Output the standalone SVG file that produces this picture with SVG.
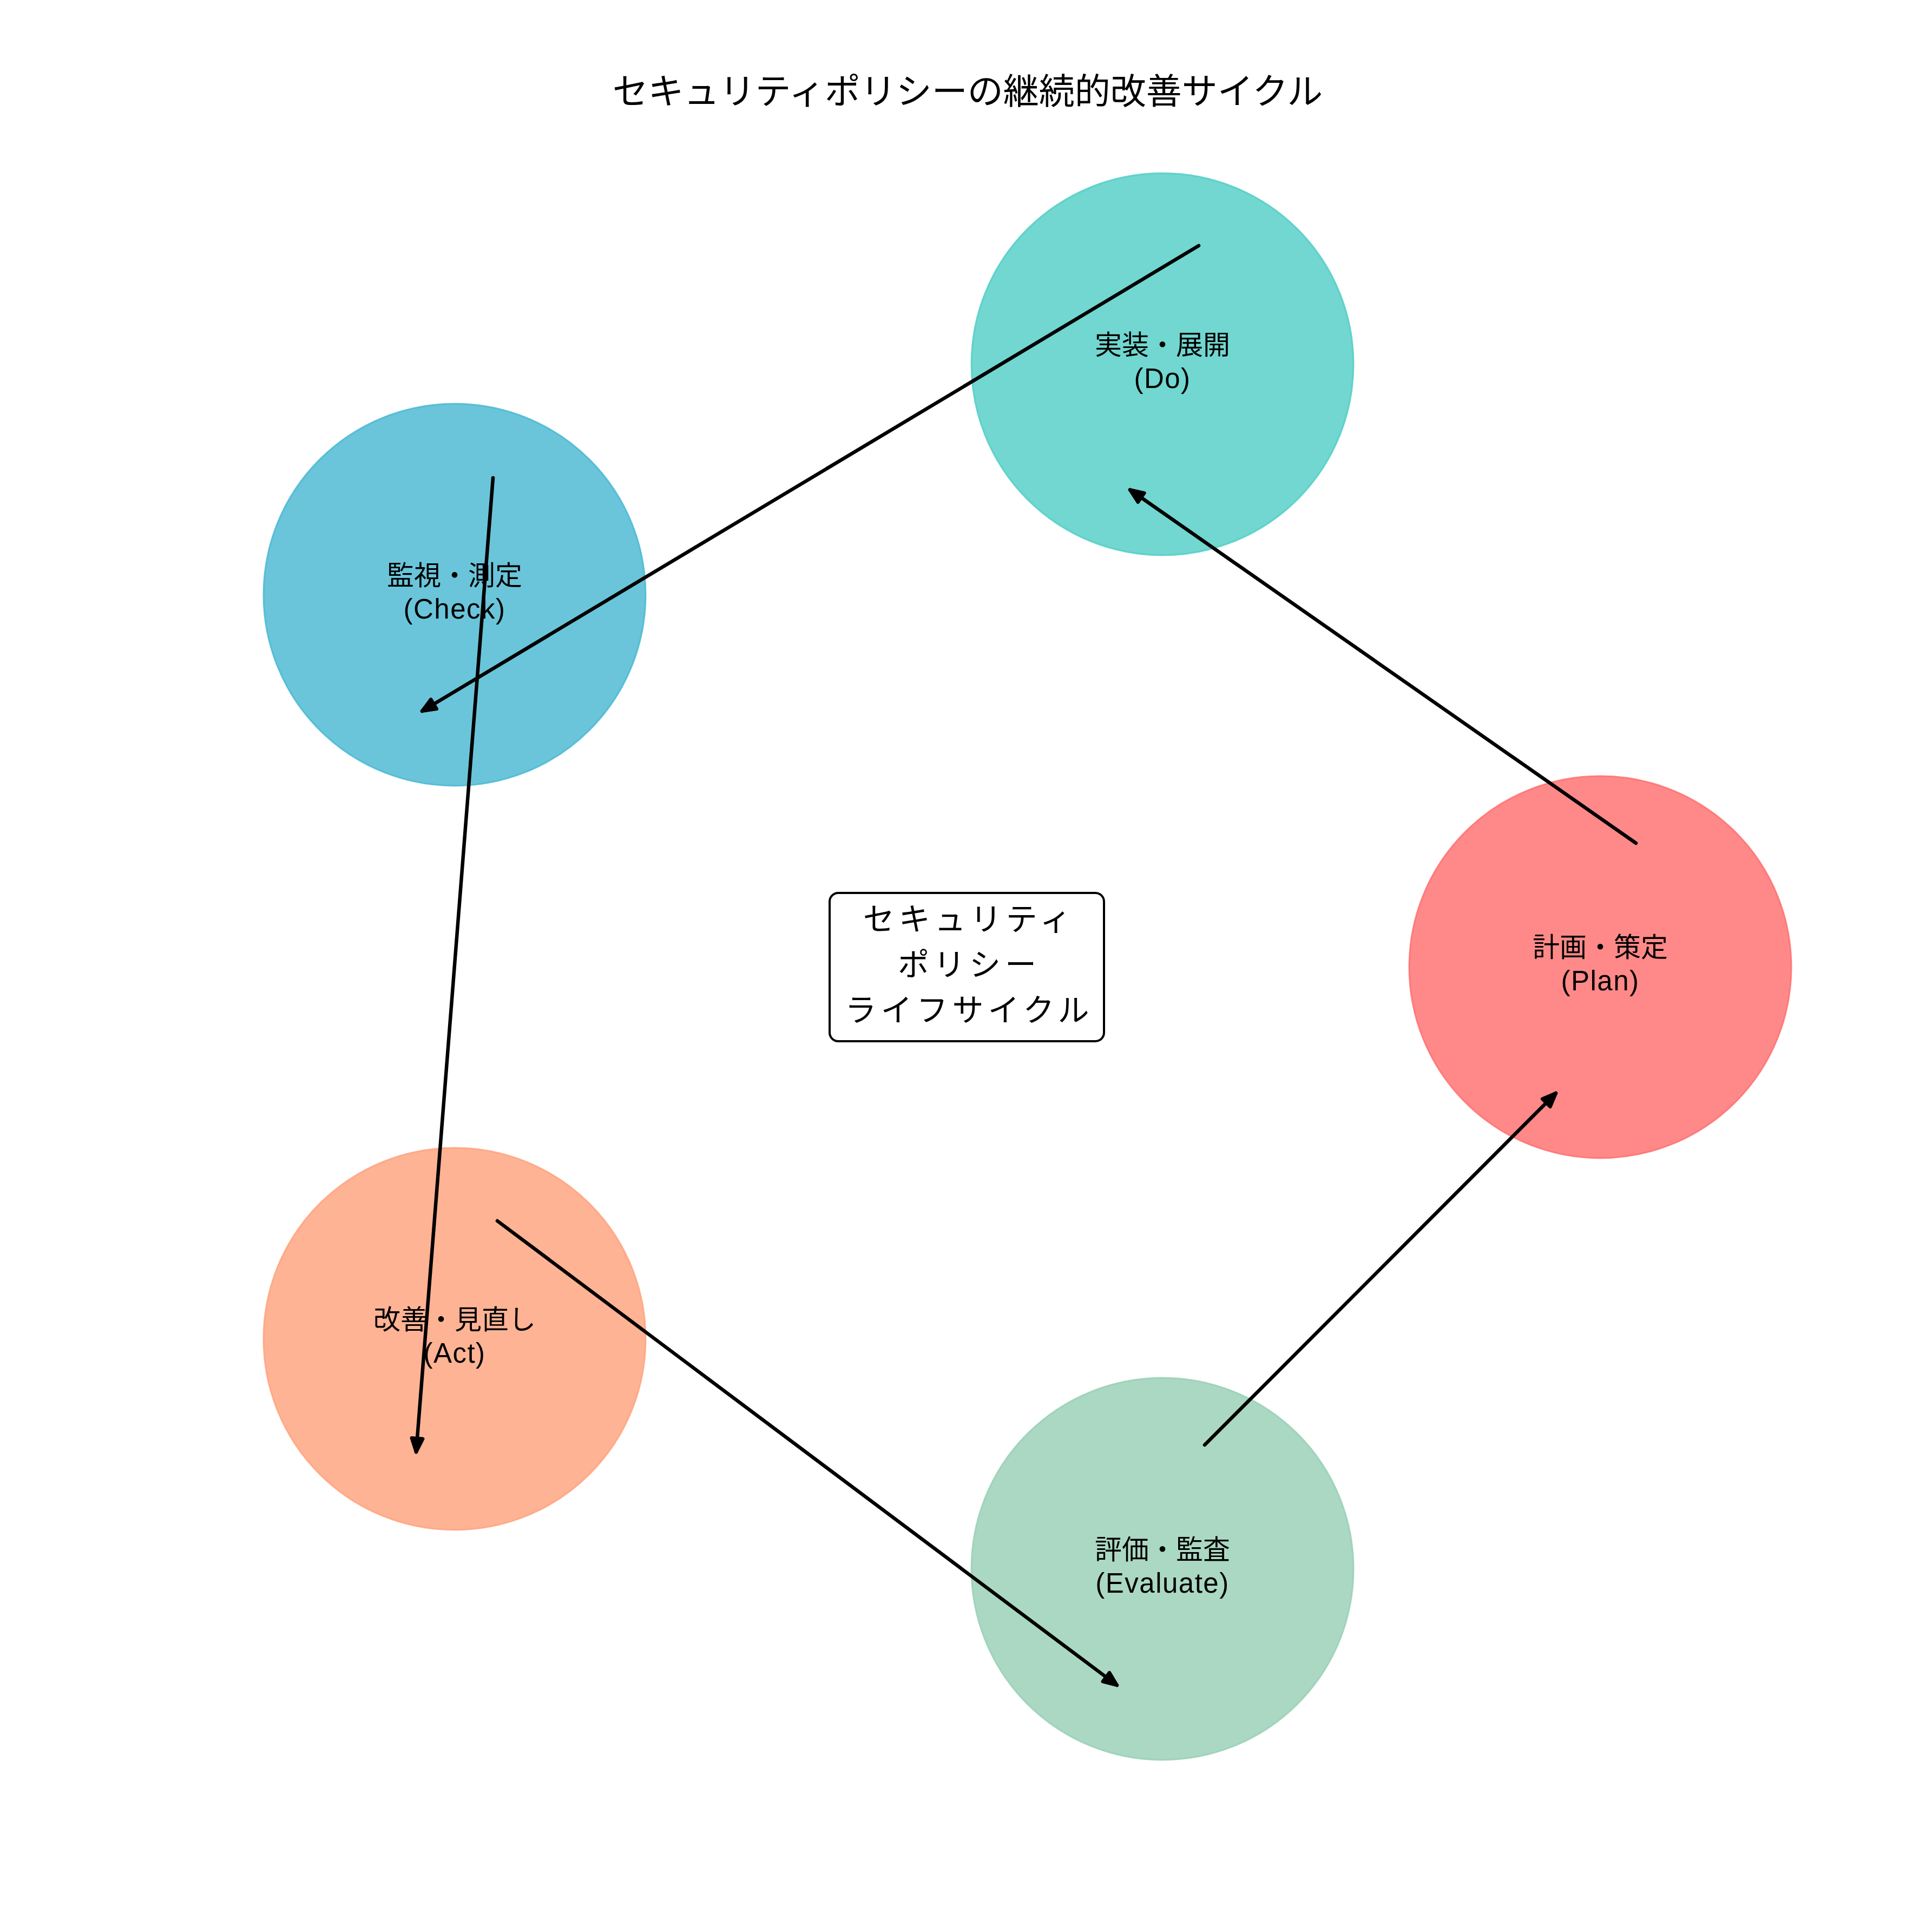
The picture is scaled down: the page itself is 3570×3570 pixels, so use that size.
<svg xmlns="http://www.w3.org/2000/svg" width="3570" height="3570" viewBox="0 0 3570 3570">
  <style>
    text { font-family: "Noto Sans CJK JP", "Noto Sans", sans-serif; fill: #000; text-anchor: middle; }
    .title { font-size: 66px; }
    .center { font-size: 58px; letter-spacing: 8px; }
    .label { font-size: 50px; }
    .latin { font-family: "Liberation Sans", "Noto Sans CJK JP", sans-serif; font-size: 51px; letter-spacing: 1.5px; }
    .node { stroke-width: 3; fill-opacity: 0.8; stroke-opacity: 0.8; }
    .conn { stroke: #000; stroke-width: 6.5; stroke-linecap: round; fill: none; marker-end: url(#arrow); }
  </style>
  <defs>
    <marker id="arrow" markerUnits="userSpaceOnUse" orient="auto" refX="0" refY="0" markerWidth="40" markerHeight="40" viewBox="-30 -15 35 30" overflow="visible">
      <path d="M0,0 L-22,-9 L-22,9 Z" fill="#000" stroke="#000" stroke-width="5.5" stroke-linejoin="round"/>
    </marker>
  </defs>
  <rect x="0" y="0" width="3570" height="3570" fill="#ffffff"/>

  <text class="title" x="1788" y="192">セキュリティポリシーの継続的改善サイクル</text>

  <g id="node-plan">
    <circle class="node" cx="2957" cy="1787" r="353" fill="#FF6B6B" stroke="#FF6B6B"/>
    <text class="label" x="2957" y="1768">計画・策定</text>
    <text class="latin" x="2957" y="1830">(Plan)</text>
  </g>
  <g id="node-do">
    <circle class="node" cx="2148" cy="673" r="353" fill="#4ECDC4" stroke="#4ECDC4"/>
    <text class="label" x="2148" y="655">実装・展開</text>
    <text class="latin" x="2148" y="717">(Do)</text>
  </g>
  <g id="node-check">
    <circle class="node" cx="840" cy="1099" r="353" fill="#45B7D1" stroke="#45B7D1"/>
    <text class="label" x="840" y="1081">監視・測定</text>
    <text class="latin" x="840" y="1143">(Check)</text>
  </g>
  <g id="node-act">
    <circle class="node" cx="840" cy="2474" r="353" fill="#FFA07A" stroke="#FFA07A"/>
    <text class="label" x="840" y="2456">改善・見直し</text>
    <text class="latin" x="840" y="2518">(Act)</text>
  </g>
  <g id="node-evaluate">
    <circle class="node" cx="2148" cy="2899" r="353" fill="#96CEB4" stroke="#96CEB4"/>
    <text class="label" x="2148" y="2881">評価・監査</text>
    <text class="latin" x="2148" y="2943">(Evaluate)</text>
  </g>

  <g id="center-label">
    <rect x="1533" y="1650" width="507" height="274" rx="16" ry="16" fill="#ffffff" stroke="#000" stroke-width="4"/>
    <text class="center" x="1791" y="1719">セキュリティ</text>
    <text class="center" x="1791" y="1803">ポリシー</text>
    <text class="center" x="1791" y="1887">ライフサイクル</text>
  </g>

  <g id="connectors">
    <line class="conn" x1="3023" y1="1558" x2="2088" y2="905"/>
    <line class="conn" x1="2215" y1="454" x2="780" y2="1314"/>
    <line class="conn" x1="911" y1="883" x2="769" y2="2683"/>
    <line class="conn" x1="919" y1="2256" x2="2064" y2="3114"/>
    <line class="conn" x1="2226" y1="2670" x2="2875" y2="2020"/>
  </g>
</svg>
